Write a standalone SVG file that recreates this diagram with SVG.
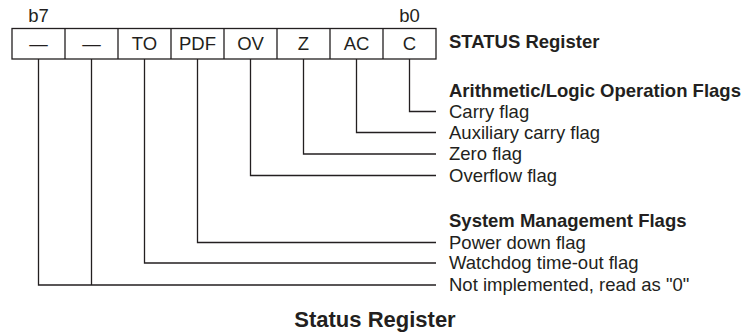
<svg xmlns="http://www.w3.org/2000/svg" width="743" height="333" viewBox="0 0 743 333">
<style>
.t{font-family:"Liberation Sans",Arial,sans-serif;font-size:18.5px;fill:#231f20}
.b{font-weight:bold}
.c{text-anchor:middle}
.cell{fill:#fff;stroke:#231f20;stroke-width:1.3}
.ln{fill:none;stroke:#231f20;stroke-width:1.3}
</style>
<rect width="743" height="333" fill="#fff"/>
<g id="register">
<rect class="cell" x="12" y="28.5" width="424" height="30.5"/>
<path class="ln" d="M65 28.5V59M118 28.5V59M171 28.5V59M224 28.5V59M277 28.5V59M330 28.5V59M383 28.5V59"/>
<text class="t c" x="38.5" y="21.5">b7</text>
<text class="t c" x="409.5" y="21.5">b0</text>
<text class="t c" x="38.5" y="50">—</text>
<text class="t c" x="91.5" y="50">—</text>
<text class="t c" x="144.5" y="50">TO</text>
<text class="t c" x="197.5" y="50">PDF</text>
<text class="t c" x="250.5" y="50">OV</text>
<text class="t c" x="303.5" y="50">Z</text>
<text class="t c" x="356.5" y="50">AC</text>
<text class="t c" x="409.5" y="50">C</text>
<text class="t b" x="449" y="48">STATUS Register</text>
</g>
<g id="connectors">
<path class="ln" d="M409.5 59V111.5H436"/>
<path class="ln" d="M356.5 59V132.5H436"/>
<path class="ln" d="M303.5 59V154H436"/>
<path class="ln" d="M250.5 59V175.5H436"/>
<path class="ln" d="M197.5 59V242.5H436"/>
<path class="ln" d="M144.5 59V263H436"/>
<path class="ln" d="M38.5 59V285H436M91.5 59V285"/>
</g>
<g id="arith-flags">
<text class="t b" x="449" y="97">Arithmetic/Logic Operation Flags</text>
<text class="t" x="449" y="117.5">Carry flag</text>
<text class="t" x="449" y="138.5">Auxiliary carry flag</text>
<text class="t" x="449" y="160">Zero flag</text>
<text class="t" x="449" y="181.5">Overflow flag</text>
</g>
<g id="system-flags">
<text class="t b" x="449" y="227">System Management Flags</text>
<text class="t" x="449" y="248.5">Power down flag</text>
<text class="t" x="449" y="269">Watchdog time-out flag</text>
<text class="t" x="449" y="291">Not implemented, read as "0"</text>
</g>
<g id="title">
<text class="t b c" x="375" y="327" style="font-size:22px">Status Register</text>
</g>
</svg>
